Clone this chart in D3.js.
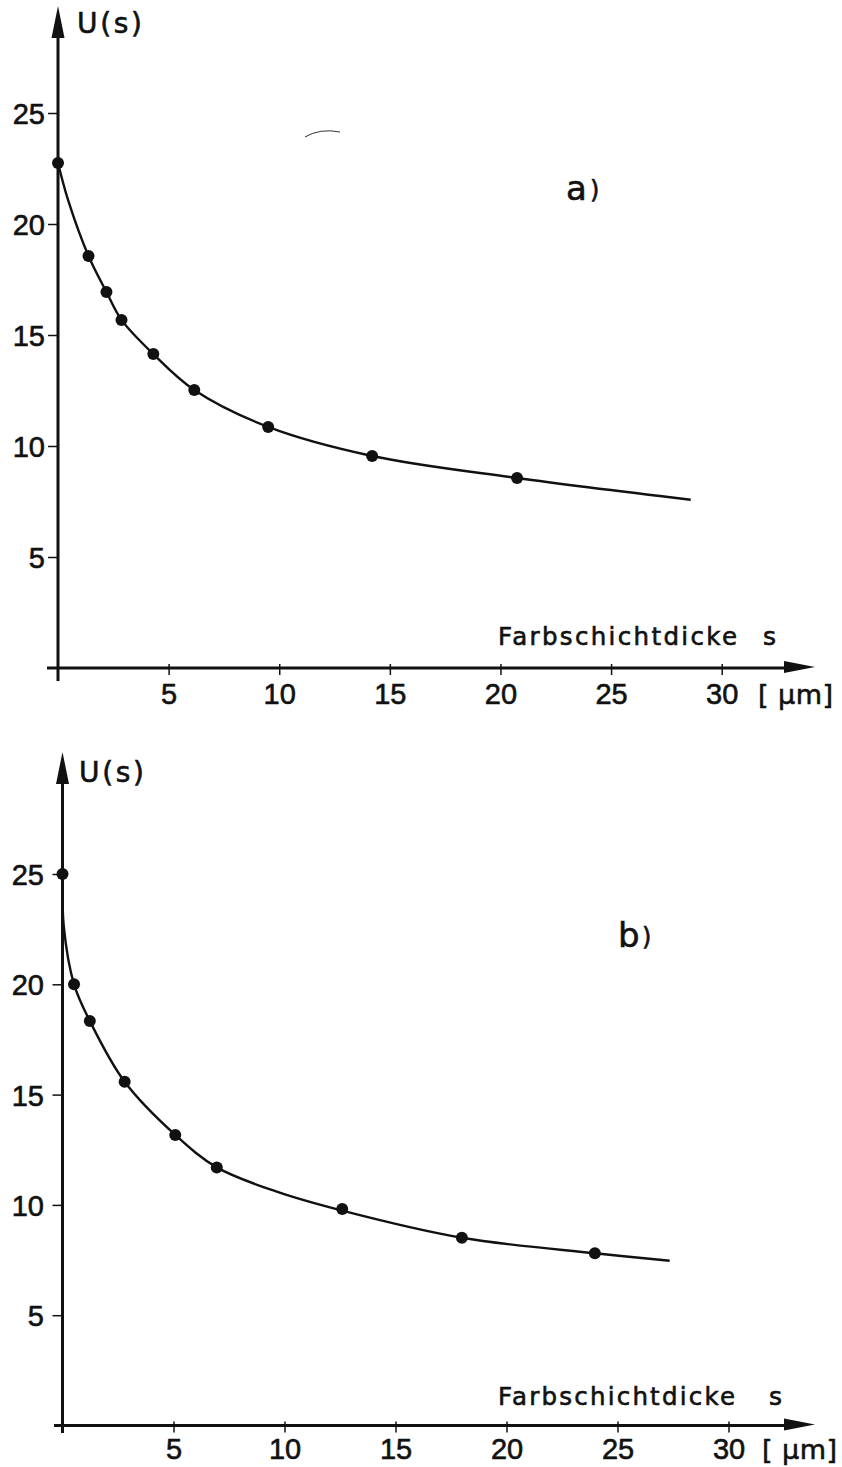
<!DOCTYPE html>
<html>
<head>
<meta charset="utf-8">
<script src="https://cdn.jsdelivr.net/npm/d3@7"></script>
<style>
  html, body { margin: 0; padding: 0; background: #fff; }
  svg { display: block; }
  text { fill: #111; stroke: #111; stroke-width: 0.6px; }
  .num { font-family: "Liberation Sans", Arial, sans-serif; }
  .lab { font-family: "DejaVu Sans", sans-serif; }
</style>
</head>
<body>
<script>
// ---- data ----
const xTicks = [5, 10, 15, 20, 25, 30];
const yTicks = [5, 10, 15, 20, 25];
const xLabel = "Farbschichtdicke";
const xVar = "s";
const xUnit = "[ µm]";
const yLabel = "U(s)";

// panel a) measured points
const sA = [0, 1.38, 2.19, 2.87, 4.31, 6.16, 9.5, 14.2, 20.75];
const uA = [22.75, 18.56, 16.94, 15.68, 14.14, 12.52, 10.86, 9.55, 8.56];
// panel a) drawn curve
const curveAs = [0, 0.45, 1.38, 2.19, 2.87, 4.31, 6.16, 9.5, 14.2, 20.75, 28.6];
const curveAu = [22.75, 21.1, 18.56, 16.94, 15.68, 14.14, 12.52, 10.86, 9.55, 8.56, 7.58];

// panel b) measured points
const sB = [0, 0.52, 1.23, 2.8, 5.08, 6.95, 12.6, 17.99, 23.98];
const uB = [25.0, 20.0, 18.34, 15.58, 13.17, 11.7, 9.81, 8.51, 7.81];
// panel b) drawn curve
const curveBs = [0, 0.06, 0.52, 1.23, 2.8, 5.08, 6.95, 9.65, 12.6, 17.99, 23.98, 27.35];
const curveBu = [25.0, 22.6, 20.0, 18.34, 15.58, 13.17, 11.7, 10.6, 9.74, 8.51, 7.81, 7.47];

const W = 842, H = 1467;
const svg = d3.select("body").append("svg").attr("width", W).attr("height", H);

const panels = [
  { tag: "a", s: sA, u: uA, cs: curveAs, cu: curveAu,
    xr: [58, 721.7], yr: [668, 113],
    yTip: 6, xTip: 815, yBottom: 681, xStart: 47,
    ylabX: 45, tagX: 566, tagY: 200, uX: 77, uY: 33,
    xLabY: 645, xLabX: 498, xLabEnd: 737, sX: 763, tickLabY: 704, unitX: 758, unitEnd: 833,
    arc: true },
  { tag: "b", s: sB, u: uB, cs: curveBs, cu: curveBu,
    xr: [62.5, 728.5], yr: [1425.5, 874],
    yTip: 752, xTip: 815, yBottom: 1433, xStart: 54,
    ylabX: 44, tagX: 618, tagY: 947, uX: 79, uY: 782,
    xLabY: 1405, xLabX: 498, xLabEnd: 735, sX: 769, tickLabY: 1459, unitX: 762, unitEnd: 837,
    arc: false }
];

panels.forEach(p => {
  const x = d3.scaleLinear().domain([0, 30]).range(p.xr);
  const y = d3.scaleLinear().domain([0, 25]).range(p.yr);
  const g = svg.append("g");
  const x0 = x(0), y0 = y(0);

  // y axis line + arrow
  g.append("line").attr("x1", x0).attr("x2", x0).attr("y1", p.yBottom).attr("y2", p.yTip + 25)
    .attr("stroke", "#111").attr("stroke-width", 3);
  g.append("path")
    .attr("d", `M${x0},${p.yTip} L${x0 - 6.5},${p.yTip + 32} L${x0 + 6.5},${p.yTip + 32} Z`)
    .attr("fill", "#111");

  // x axis line + arrow
  g.append("line").attr("x1", p.xStart).attr("x2", p.xTip - 25).attr("y1", y0).attr("y2", y0)
    .attr("stroke", "#111").attr("stroke-width", 3);
  g.append("path")
    .attr("d", `M${p.xTip},${y0 - 1} L${p.xTip - 31},${y0 - 7} L${p.xTip - 31},${y0 + 5} Z`)
    .attr("fill", "#111");

  // y ticks
  const ya = d3.axisLeft(y).tickValues(yTicks).tickSize(10).tickFormat(d3.format("d"));
  const yg = g.append("g").attr("transform", `translate(${x0},0)`).call(ya);
  yg.select(".domain").remove();
  yg.selectAll(".tick line").attr("stroke", "#111").attr("stroke-width", 1.5);
  yg.selectAll(".tick text").attr("class", "num")
    .attr("x", p.ylabX - x0).attr("dy", "0.36em")
    .style("font-size", "29px").attr("fill", "#111");

  // x ticks
  const xa = d3.axisBottom(x).tickValues(xTicks).tickSize(7).tickFormat(d3.format("d"));
  const xg = g.append("g").attr("transform", `translate(0,${y0})`).call(xa);
  xg.select(".domain").remove();
  xg.selectAll(".tick line").attr("y1", -4).attr("stroke", "#111").attr("stroke-width", 1.5);
  xg.selectAll(".tick text").attr("class", "num")
    .attr("y", p.tickLabY - y0).attr("dy", 0)
    .style("font-size", "29px").attr("fill", "#111");

  // curve
  const line = d3.line().x(d => x(d[0])).y(d => y(d[1])).curve(d3.curveCatmullRom.alpha(0.5));
  g.append("path").datum(p.cs.map((v, i) => [v, p.cu[i]]))
    .attr("d", line).attr("fill", "none").attr("stroke", "#111").attr("stroke-width", 2.4);

  // points
  g.selectAll("circle.pt").data(p.s.map((v, i) => [v, p.u[i]])).enter().append("circle")
    .attr("class", "pt").attr("cx", d => x(d[0])).attr("cy", d => y(d[1])).attr("r", 6)
    .attr("fill", "#111");

  // labels
  g.append("text").attr("class", "lab").attr("x", p.uX).attr("y", p.uY).text(yLabel)
    .style("font-size", "28px").attr("textLength", 65).attr("lengthAdjust", "spacing");
  g.append("text").attr("class", "lab").attr("x", p.xLabX).attr("y", p.xLabY).text(xLabel)
    .style("font-size", "24.5px").attr("textLength", p.xLabEnd - p.xLabX).attr("lengthAdjust", "spacing");
  g.append("text").attr("class", "lab").attr("x", p.sX).attr("y", p.xLabY).text(xVar).style("font-size", "25px");
  g.append("text").attr("class", "lab").attr("x", p.unitX).attr("y", p.tickLabY).text(xUnit)
    .style("font-size", "27px").attr("textLength", p.unitEnd - p.unitX).attr("lengthAdjust", "spacing");
  g.append("text").attr("class", "lab").attr("x", p.tagX).attr("y", p.tagY).text(p.tag)
    .style("font-size", "34px");
  g.append("text").attr("class", "lab").attr("x", p.tagX + 24).attr("y", p.tagY - 2).text(")")
    .style("font-size", "24px");

  if (p.arc) {
    g.append("path").attr("d", "M305,137 Q320,128 340,132")
      .attr("fill", "none").attr("stroke", "#333").attr("stroke-width", 1);
  }
});
</script>
</body>
</html>
